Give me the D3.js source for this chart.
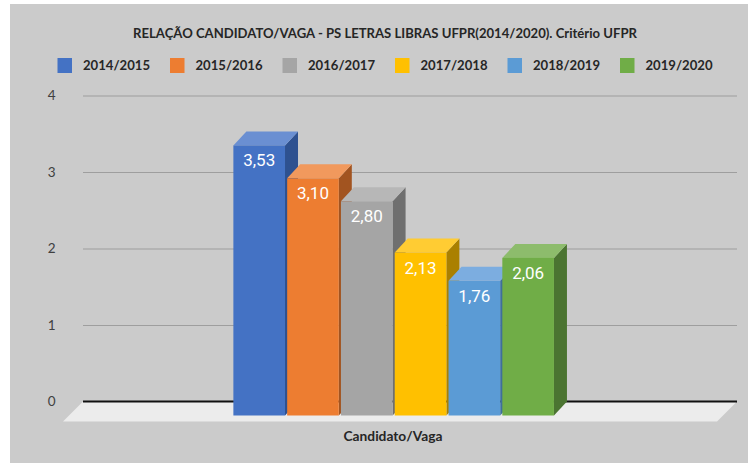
<!DOCTYPE html>
<html>
<head>
<meta charset="utf-8">
<script src="https://cdn.jsdelivr.net/npm/d3@7"></script>
<style>
	html, body { margin: 0; padding: 0; background: #ffffff; }
	svg { display: block; }
</style>
</head>
<body>
<div id="chart"></div>
<script>

/* CHART DATA */
var categories = ["Candidato/Vaga"];
var series_Names = ["2014/2015", "2015/2016", "2016/2017", "2017/2018", "2018/2019", "2019/2020"];
var series_Values = [3.53, 3.10, 2.80, 2.13, 1.76, 2.06];
var y_Ticks = [0, 1, 2, 3, 4];
var chart_Title = "RELAÇÃO CANDIDATO/VAGA - PS LETRAS LIBRAS UFPR(2014/2020). Critério UFPR";

/* CHART COLOURS (front, top, side of each 3d column) */
var front_Colours = ["#4472c4", "#ed7d31", "#a5a5a5", "#ffc000", "#5b9bd5", "#70ad47"];
var top_Colours = ["#6a8fd2", "#f1995d", "#b7b7b7", "#ffcc33", "#7cade0", "#8dbc6c"];
var side_Colours = ["#2e5190", "#a25420", "#6f6f6f", "#aa8000", "#3f6f9b", "#4b7431"];

var width = 748, height = 463;
var plot_Left = 83, plot_Right = 737;
var depth_X = 13, depth_Y = 14;      /* column depth */
var floor_Depth = 20;                /* floor depth */

/* brazilian number format: 3,53 */
var pt_BR = d3.formatLocale({decimal: ",", thousands: ".", grouping: [3], currency: ["R$", ""]});
var format_Value = pt_BR.format(".2f");

var svg = d3.select("#chart").append("svg")
	.attr("width", width)
	.attr("height", height);

/* grey chart area */
svg.append("rect")
	.attr("x", 10)
	.attr("y", 4)
	.attr("width", width - 10)
	.attr("height", height - 4)
	.attr("fill", "#cbcbcb");

/* scales */
var y = d3.scaleLinear().domain([0, 4]).range([401.5, 95.5]);

var x_Category = d3.scaleBand()
	.domain(categories)
	.range([plot_Left, plot_Right])
	.paddingOuter(0.52)
	.align(0.49);

var x_Series = d3.scaleBand()
	.domain(series_Names)
	.range([0, x_Category.bandwidth()])
	.paddingInner(0.04);

/* fit a text element to a measured width */
function fit_Text(text, target_Width) {
	var size = parseFloat(text.attr("font-size"));
	var length = text.node().getComputedTextLength();
	text.attr("font-size", (size * target_Width / length).toFixed(2));
}

/* title */
var title = svg.append("text")
	.attr("x", 385)
	.attr("y", 38)
	.attr("text-anchor", "middle")
	.attr("font-family", "Lato, 'Open Sans', sans-serif")
	.attr("font-weight", 700)
	.attr("font-size", 13)
	.attr("fill", "#262626")
	.text(chart_Title);
fit_Text(title, 504);

/* legend */
var legend = svg.append("g").attr("class", "legend");

var legend_Item = legend.selectAll("g")
	.data(series_Names)
	.enter().append("g")
	.attr("transform", function(d, i){ return "translate(" + (57.5 + i * 112.5) + ",58)"; });

legend_Item.append("rect")
	.attr("width", 14.5)
	.attr("height", 15)
	.attr("fill", function(d, i){ return front_Colours[i]; });

legend_Item.append("text")
	.attr("x", 25.5)
	.attr("y", 11.5)
	.attr("font-family", "Lato, 'Open Sans', sans-serif")
	.attr("font-weight", 700)
	.attr("font-size", 13.4)
	.attr("fill", "#262626")
	.text(function(d){ return d; })
	.each(function(){ fit_Text(d3.select(this), 67); });

/* y axis with gridlines */
var y_Axis = svg.append("g")
	.attr("transform", "translate(" + plot_Left + ",0)")
	.call(d3.axisLeft(y)
		.tickValues(y_Ticks)
		.tickSize(-(plot_Right - plot_Left))
		.tickPadding(27.5)
		.tickFormat(d3.format("d")));

y_Axis.select(".domain").remove();
y_Axis.selectAll(".tick line")
	.attr("stroke", "#9e9e9e")
	.attr("stroke-width", 1.2);
y_Axis.selectAll(".tick text")
	.attr("font-family", "Lato, 'Open Sans', sans-serif")
	.attr("font-size", 13.5)
	.attr("fill", "#404040");

/* floor */
var y_Zero = y(0);
svg.append("polygon")
	.attr("points", [
		[plot_Left, y_Zero],
		[plot_Right, y_Zero],
		[plot_Right - floor_Depth, y_Zero + floor_Depth],
		[plot_Left - floor_Depth, y_Zero + floor_Depth]
	].join(" "))
	.attr("fill", "#ececec");

svg.append("line")
	.attr("x1", plot_Left)
	.attr("x2", plot_Right)
	.attr("y1", y_Zero)
	.attr("y2", y_Zero)
	.attr("stroke", "#111111")
	.attr("stroke-width", 1.8);

/* 3d columns, drawn left to right so each front covers the previous side */
var bars = svg.append("g").attr("class", "bars");
var bar_Width = x_Series.bandwidth();

series_Names.forEach(function(name, index){

	var back_X = x_Category(categories[0]) + x_Series(name);
	var back_Top = y(series_Values[index]);
	var front_X = back_X - depth_X;
	var front_Top = back_Top + depth_Y;

	var bar = bars.append("g");

	/* side */
	bar.append("polygon")
		.attr("points", [
			[front_X + bar_Width, front_Top],
			[back_X + bar_Width, back_Top],
			[back_X + bar_Width, y_Zero],
			[front_X + bar_Width, y_Zero + depth_Y]
		].join(" "))
		.attr("fill", side_Colours[index]);

	/* top */
	bar.append("polygon")
		.attr("points", [
			[front_X, front_Top],
			[front_X + bar_Width, front_Top],
			[back_X + bar_Width, back_Top],
			[back_X, back_Top]
		].join(" "))
		.attr("fill", top_Colours[index]);

	/* front */
	bar.append("rect")
		.attr("x", front_X)
		.attr("y", front_Top)
		.attr("width", bar_Width)
		.attr("height", y_Zero - back_Top)
		.attr("fill", front_Colours[index]);

	/* value label */
	bar.append("text")
		.attr("x", front_X + bar_Width / 2)
		.attr("y", front_Top + 21)
		.attr("text-anchor", "middle")
		.attr("font-family", "Roboto, sans-serif")
		.attr("font-size", 17)
		.attr("fill", "#ffffff")
		.text(format_Value(series_Values[index]));
});

/* category axis title */
var category_Title = svg.append("text")
	.attr("x", 393)
	.attr("y", 440.5)
	.attr("text-anchor", "middle")
	.attr("font-family", "Lato, 'Open Sans', sans-serif")
	.attr("font-weight", 700)
	.attr("font-size", 15)
	.attr("fill", "#262626")
	.text(categories[0]);
fit_Text(category_Title, 99);

</script>
</body>
</html>
